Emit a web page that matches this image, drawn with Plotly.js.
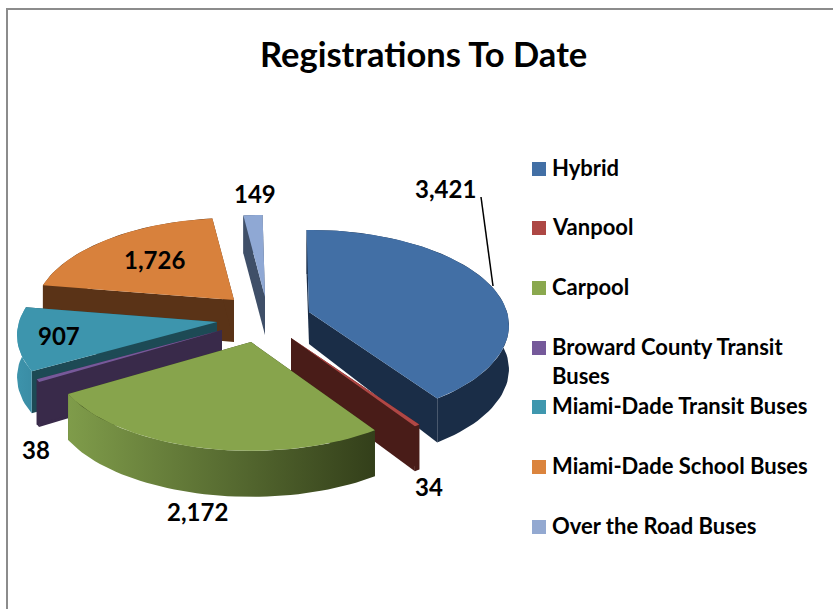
<!DOCTYPE html>
<html>
<head>
<meta charset="utf-8">
<script src="https://cdn.plot.ly/plotly-3.0.1.min.js"></script>
<style>html,body{margin:0;padding:0;background:#fff}#c{width:833px;height:609px}</style>
</head>
<body>
<div id="c"></div>
<script>
// ---- chart data ----
const categories = ["Hybrid","Vanpool","Carpool","Broward County Transit Buses","Miami-Dade Transit Buses","Miami-Dade School Buses","Over the Road Buses"];
const values = [3421,34,2172,38,907,1726,149];
const valueLabels = ["3,421","34","2,172","38","907","1,726","149"];
const chartTitle = "Registrations To Date";

// ---- styling ----
const topColors  = ["#426FA5","#B04745","#87A44C","#77599A","#3D95AD","#D8813C","#8FA8D4"];
const wallLeft   = ["#1A2D47","#491C18","#7F9C4A","#392A4A","#3D93AB","#5A3317","#3F4F68"];
const wallRight  = ["#1A2D47","#491C18","#333F1A","#392A4A","#3A8DA5","#5A3317","#3F4F68"];
const cutColors  = ["#1A2D47","#491C18","#333F1A","#392A4A","#1D4A55","#5A3317","#3F4F68"];
const swatches   = ["#426FA5","#AD4744","#8AA84E","#75599A","#3F97AE","#DB843D","#93A9D1"];
const apexX      = [309,291,251,222,217,234,265];
const apexY      = [312,338,342,330,322,300,297];
const heightApex = [32,42,42,42,40,42,38];
const heightRim  = [44,45,46,45,42,40,38];
const drawOrder  = [5,6,0,4,3,1,2];
const labelX     = [445,429,197,36,59,154,255];
const labelY     = [188,486,511,449,335,259,193];
const legendY    = [169,228,288,348,407,467,527];
const radiusX = 198, radiusY = 93.6, perspective = 0.14, startAngle = -0.8;

const total = values.reduce((a,b)=>a+b,0);
function proj(i, deg){
  const a = deg*Math.PI/180, u = Math.sin(a), v = Math.cos(a), w = 1+perspective*v;
  return [apexX[i]+radiusX*u/w, apexY[i]-radiusY*v/w];
}
function face(name, pts, fill){
  const t = {type:"scatter",mode:"lines",x:pts.map(p=>p[0]),y:pts.map(p=>p[1]),fill:"toself",
    line:{width:0,color:"rgba(0,0,0,0)"},showlegend:false,hoverinfo:"text",text:name,name:name};
  if (Array.isArray(fill)) {
    t.fillcolor = fill[0];
    t.fillgradient = {type:"horizontal",colorscale:[[0,fill[0]],[1,fill[1]]]};
  } else t.fillcolor = fill;
  return t;
}
let cum = 0;
const spans = values.map(v=>{const s=startAngle+cum/total*360; cum+=v; return [s,startAngle+cum/total*360];});
const traces = [];
drawOrder.forEach(i=>{
  const [s,e] = spans[i], arc=[];
  const n = Math.max(2,Math.ceil((e-s)/2));
  for(let k=0;k<=n;k++) arc.push(proj(i,s+(e-s)*k/n));
  const apex=[apexX[i],apexY[i]], apexB=[apexX[i],apexY[i]+heightApex[i]];
  const dn = p=>[p[0],p[1]+heightRim[i]];
  // radial cut faces
  traces.push(face(categories[i],[apex,arc[0],dn(arc[0]),apexB,apex],cutColors[i]));
  traces.push(face(categories[i],[apex,arc[n],dn(arc[n]),apexB,apex],cutColors[i]));
  // outer wall
  const wall = arc.concat(arc.slice().reverse().map(dn)); wall.push(arc[0]);
  traces.push(face(categories[i],wall,[wallLeft[i],wallRight[i]]));
  // top
  traces.push(face(categories[i],[apex].concat(arc,[apex]),topColors[i]));
});

const FONT = "Lato, 'Open Sans', sans-serif";
const shapes = [
  {type:"line",x0:7,x1:7,y0:8,y1:609,xref:"x",yref:"y",line:{color:"#8C8C8C",width:2}},
  {type:"line",x0:6,x1:833,y0:9,y1:9,xref:"x",yref:"y",line:{color:"#8C8C8C",width:2}},
  {type:"line",x0:481,y0:197,x1:493,y1:286,xref:"x",yref:"y",line:{color:"#000",width:1.5}}
];
const annotations = [];
valueLabels.forEach((t,i)=>annotations.push({x:labelX[i],y:labelY[i],xref:"x",yref:"y",text:"<b>"+t+"</b>",showarrow:false,
  font:{family:FONT,size:24,color:"#000"},xanchor:"center",yanchor:"middle"}));
categories.forEach((c,i)=>{
  shapes.push({type:"rect",xref:"x",yref:"y",x0:532,x1:546,y0:legendY[i]-7,y1:legendY[i]+7,fillcolor:swatches[i],line:{width:0}});
  const txt = i===3 ? "<b>Broward County Transit</b><br><b>Buses</b>" : "<b>"+c+"</b>";
  annotations.push({x:550,y:legendY[i]-17,xref:"x",yref:"y",text:txt,showarrow:false,align:"left",
    font:{family:FONT,size:22,color:"#000"},xanchor:"left",yanchor:"top"});
});
annotations.push({x:423,y:53,xref:"x",yref:"y",text:"<b>"+chartTitle+"</b>",showarrow:false,
  font:{family:FONT,size:34.5,color:"#000"},xanchor:"center",yanchor:"middle"});

Plotly.newPlot("c",traces,{
  width:833,height:609,margin:{l:0,r:0,t:0,b:0},paper_bgcolor:"#fff",plot_bgcolor:"#fff",showlegend:false,
  xaxis:{range:[0,833],visible:false,fixedrange:true},
  yaxis:{range:[609,0],visible:false,fixedrange:true},
  shapes,annotations
},{displayModeBar:false,staticPlot:true});
</script>
</body>
</html>
